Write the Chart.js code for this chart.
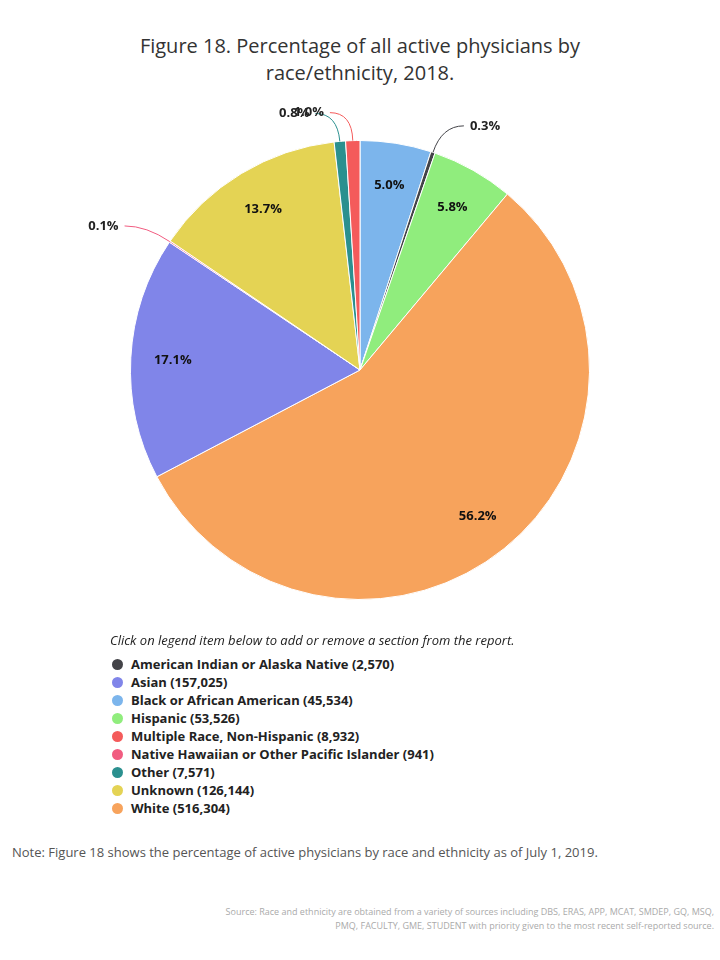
<!DOCTYPE html>
<html>
<head>
<meta charset="utf-8">
<script src="https://cdn.jsdelivr.net/npm/chart.js@4"></script>
<style>
  body { margin: 0; width: 720px; height: 960px; background: #fff; font-family: "Open Sans", "DejaVu Sans", sans-serif; position: relative; }
  #title { position: absolute; top: 32px; left: 0; width: 720px; text-align: center; font-size: 20px; color: #333; line-height: 27px; }
  #wrap { position: absolute; top: 90px; left: 0; width: 720px; height: 560px; }
  #hint { position: absolute; top: 631px; left: 110px; font-size: 13px; font-style: italic; color: #222; }
  #legend { position: absolute; top: 655px; left: 112px; font-size: 13px; font-weight: bold; color: #222; }
  #legend div { height: 18px; line-height: 18px; }
  #legend span { display: inline-block; width: 11px; height: 11px; border-radius: 50%; margin-right: 8px; vertical-align: -1px; }
  #note { position: absolute; top: 843px; left: 12px; width: 660px; font-size: 13px; color: #555; line-height: 18px; }
  #source { position: absolute; top: 905px; right: 6px; width: 500px; text-align: right; font-size: 9px; color: #aaa; line-height: 14px; }
</style>
</head>
<body>
<div id="title">Figure 18. Percentage of all active physicians by<br>race/ethnicity, 2018.</div>
<div id="wrap"><canvas id="pie"></canvas></div>
<div id="hint">Click on legend item below to add or remove a section from the report.</div>
<div id="legend"></div>
<div id="note">Note: Figure 18 shows the percentage of active physicians by race and ethnicity as of July 1, 2019.</div>
<div id="source">Source: Race and ethnicity are obtained from a variety of sources including DBS, ERAS, APP, MCAT, SMDEP, GQ, MSQ, PMQ, FACULTY, GME, STUDENT with priority given to the most recent self-reported source.</div>
<script>
// slices in drawing order, clockwise from the top
const categories = ["Black or African American", "American Indian or Alaska Native", "Hispanic", "White", "Asian", "Native Hawaiian or Other Pacific Islander", "Unknown", "Other", "Multiple Race, Non-Hispanic"]
const percents = [5.0, 0.3, 5.8, 56.2, 17.1, 0.1, 13.7, 0.8, 1.0]
const counts = [45534, 2570, 53526, 516304, 157025, 941, 126144, 7571, 8932]
const colors = ["#7cb5ec", "#434348", "#90ed7d", "#f7a35c", "#8085e9", "#f15c80", "#e4d354", "#2b908f", "#f45b5b"]
const outsideLabel = [false, true, false, false, false, true, false, true, true]

// legend is listed alphabetically
const legendOrder = [1, 4, 0, 2, 8, 5, 7, 6, 3]
const legend = document.getElementById("legend")
legendOrder.forEach(i => {
  const row = document.createElement("div")
  row.innerHTML = '<span style="background:' + colors[i] + '"></span>' + categories[i] + " (" + counts[i].toLocaleString("en-US") + ")"
  legend.appendChild(row)
})

const labelPlugin = {
  id: "sliceLabels",
  afterDatasetsDraw(chart) {
    const ctx = chart.ctx
    const arcs = chart.getDatasetMeta(0).data
    ctx.save()
    ctx.font = "bold 13px 'Open Sans', sans-serif"
    ctx.textBaseline = "middle"
    arcs.forEach((arc, i) => {
      const p = arc.getProps(["x", "y", "startAngle", "endAngle", "outerRadius"], true)
      const mid = (p.startAngle + p.endAngle) / 2
      const cos = Math.cos(mid), sin = Math.sin(mid)
      const text = percents[i].toFixed(1) + "%"
      if (!outsideLabel[i]) {
        const r = p.outerRadius - 42
        ctx.fillStyle = "#111"
        ctx.textAlign = "center"
        ctx.fillText(text, p.x + cos * r, p.y + sin * r)
      } else {
        const side = cos >= 0 ? 1 : -1
        const x0 = p.x + cos * p.outerRadius, y0 = p.y + sin * p.outerRadius
        const x1 = p.x + cos * (p.outerRadius + 28), y1 = p.y + sin * (p.outerRadius + 28)
        const x2 = x1 + side * 22
        ctx.strokeStyle = colors[i]
        ctx.lineWidth = 1
        ctx.beginPath()
        ctx.moveTo(x0, y0)
        ctx.quadraticCurveTo(x1, y1, x2, y1)
        ctx.stroke()
        ctx.fillStyle = "#222"
        ctx.textAlign = side > 0 ? "left" : "right"
        ctx.fillText(text, x2 + side * 6, y1)
      }
    })
    ctx.restore()
  }
}

new Chart(document.getElementById("pie"), {
  type: "pie",
  data: {
    labels: categories,
    datasets: [{
      data: percents,
      backgroundColor: colors,
      borderColor: "#fff",
      borderWidth: 1
    }]
  },
  options: {
    responsive: true,
    maintainAspectRatio: false,
    animation: false,
    layout: { padding: { top: 50, bottom: 50 } },
    plugins: { legend: { display: false }, tooltip: { enabled: false } }
  },
  plugins: [labelPlugin]
})
</script>
</body>
</html>
